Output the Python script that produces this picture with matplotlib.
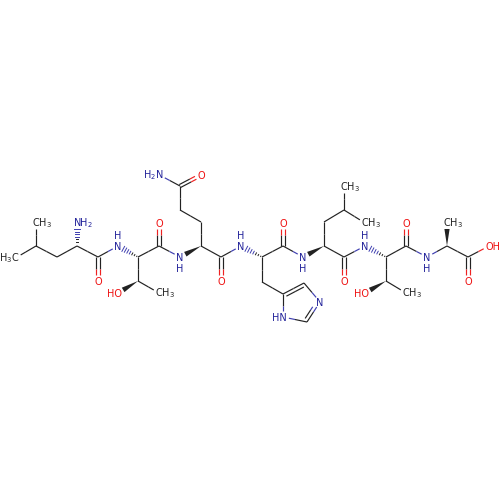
import numpy as np
import matplotlib.pyplot as plt
from matplotlib.patches import Polygon

atom_ids = ['c1', 'c2', 'c3', 'c4', 'c5', 'n1', 'c6', 'o1', 'n2', 'c7', 'c8', 'o2', 'c9', 'o3', 'c10',
            'n3', 'c11', 'c12', 'c13', 'c14', 'o4', 'n4', 'c15', 'o5', 'n5', 'c16', 'c17', 'o6', 'c18',
            'c19', 'c20', 'n6', 'c21', 'n7', 'n8', 'c22', 'c23', 'c24', 'c25', 'c26', 'c27', 'o7', 'n9',
            'c28', 'c29', 'o8', 'c30', 'o9', 'c31', 'n10', 'c32', 'c33', 'c34', 'o10', 'o11']
atom_x = [36, 36, 15.5, 57, 77, 77, 98, 98, 118, 138, 159, 159, 138, 118, 159,
          180, 201, 201, 180, 180, 201, 159.5, 221, 221, 241, 262, 283, 283, 262,
          283, 304, 320, 307, 283, 303, 324, 324, 344, 344, 365, 344, 344, 365,
          386, 406, 406, 386, 365, 406, 427, 447, 447, 468, 468, 489]
atom_y = [223, 246, 258, 257, 246, 223, 257, 281, 246, 257, 246, 223, 281, 293, 293,
          257, 246, 222, 210, 186, 175, 175, 257, 281, 246, 257, 246, 223, 282,
          294, 283, 302, 322, 317, 257, 246, 222, 210, 187, 223, 257, 281, 246,
          257, 246, 223, 281, 293, 293, 257, 246, 223, 257, 281, 246]

# label, anchor: l = first letter on the atom, r = last letter on the atom
labels = {
    'c1': ('CH$_3$', 'l'), 'c3': ('H$_3$C', 'r'), 'n1': ('NH$_2$', 'l'), 'o1': ('O', 'c'),
    'n2': ('N', 'c'), 'o2': ('O', 'c'), 'o3': ('HO', 'r'), 'c10': ('CH$_3$', 'l'),
    'n3': ('N', 'c'), 'o4': ('O', 'c'), 'n4': ('H$_2$N', 'r'), 'o5': ('O', 'c'),
    'n5': ('N', 'c'), 'o6': ('O', 'c'), 'n6': ('N', 'c'), 'n7': ('HN', 'r'),
    'n8': ('N', 'c'), 'c25': ('CH$_3$', 'l'), 'c26': ('CH$_3$', 'l'), 'o7': ('O', 'c'),
    'n9': ('N', 'c'), 'o8': ('O', 'c'), 'o9': ('HO', 'r'), 'c31': ('CH$_3$', 'l'),
    'n10': ('N', 'c'), 'c33': ('CH$_3$', 'l'), 'o10': ('O', 'c'), 'o11': ('OH', 'l'),
}
hydrogens_above = ['n2', 'n5', 'n9']
hydrogens_below = ['n3', 'n8', 'n10']

single_bonds = [('c1', 'c2'), ('c2', 'c3'), ('c2', 'c4'), ('c4', 'c5'), ('c5', 'c6'), ('c6', 'n2'),
                ('c7', 'c8'), ('c7', 'c9'), ('c9', 'c10'), ('c8', 'n3'), ('c11', 'c12'), ('c12', 'c13'),
                ('c13', 'c14'), ('c14', 'n4'), ('c11', 'c15'), ('c15', 'n5'), ('c16', 'c17'),
                ('c16', 'c18'), ('c18', 'c19'), ('c19', 'n7'), ('n7', 'c21'), ('c20', 'n6'),
                ('c17', 'n8'), ('c22', 'c23'), ('c23', 'c24'), ('c24', 'c25'), ('c24', 'c26'),
                ('c22', 'c27'), ('c27', 'n9'), ('c28', 'c29'), ('c28', 'c30'), ('c30', 'c31'),
                ('c29', 'n10'), ('n10', 'c32'), ('c32', 'c34'), ('c34', 'o11')]
double_bonds = [('c6', 'o1'), ('c8', 'o2'), ('c14', 'o4'), ('c15', 'o5'), ('c17', 'o6'),
                ('c27', 'o7'), ('c29', 'o8'), ('c34', 'o10')]
# second line goes to one side only, towards the ring centre
ring_double_bonds = [('c19', 'c20'), ('n6', 'c21')]
ring_centre = (299, 304)
wedge_bonds = [('c9', 'o3'), ('c11', 'n3'), ('c22', 'n8'), ('c30', 'o9'), ('c32', 'c33')]
hash_bonds = [('c5', 'n1'), ('c7', 'n2'), ('c16', 'n5'), ('c28', 'n9')]

dark = '#222222'
atom_colors = {'c': dark, 'n': '#3f3fb0', 'o': '#ee2222'}
label_colors = {'c': '#222222', 'n': '#22229a', 'o': '#ee1111'}

pos = {a: np.array([x, y], dtype=float) for a, x, y in zip(atom_ids, atom_x, atom_y)}


def trimmed(a, b):
    p, q = pos[a].copy(), pos[b].copy()
    unit = (q - p) / np.linalg.norm(q - p)
    if a in labels:
        p = p + unit * 6
    if b in labels:
        q = q - unit * 6
    return p, q


def half_coloured(ax, p, q, a, b, shift=(0, 0)):
    mid = (pos[a] + pos[b]) / 2 + np.array(shift)
    for start, end, atom in ((p, mid, a), (mid, q, b)):
        ax.plot([start[0], end[0]], [start[1], end[1]], color=atom_colors[atom[0]],
                lw=0.85, solid_capstyle='butt')


def draw_wedge(ax, a, b):
    p, q = trimmed(a, b)
    unit = (q - p) / np.linalg.norm(q - p)
    side = np.array([-unit[1], unit[0]]) * 2.6
    ax.add_patch(Polygon([p, q + side, q - side], closed=True, color=dark, lw=0))


def draw_hash(ax, a, b):
    p, q = trimmed(a, b)
    unit = (q - p) / np.linalg.norm(q - p)
    side = np.array([-unit[1], unit[0]])
    for f in np.linspace(0.08, 1, 7):
        c = p + (q - p) * f
        w = side * 2.8 * f
        color = atom_colors[a[0]] if f < 0.5 else atom_colors[b[0]]
        ax.plot([c[0] - w[0], c[0] + w[0]], [c[1] - w[1], c[1] + w[1]], color=color, lw=0.7)


def main():
    fig = plt.figure(figsize=(5, 5), dpi=100)
    ax = fig.add_axes([0, 0, 1, 1])
    ax.set_xlim(0, 500)
    ax.set_ylim(500, 0)
    ax.axis('off')

    for a, b in single_bonds:
        p, q = trimmed(a, b)
        half_coloured(ax, p, q, a, b)

    for a, b in double_bonds:
        p, q = trimmed(a, b)
        unit = (q - p) / np.linalg.norm(q - p)
        off = np.array([-unit[1], unit[0]]) * 1.6
        half_coloured(ax, p + off, q + off, a, b, off)
        half_coloured(ax, p - off, q - off, a, b, -off)

    for a, b in ring_double_bonds:
        p, q = trimmed(a, b)
        half_coloured(ax, p, q, a, b)
        unit = (q - p) / np.linalg.norm(q - p)
        inner = np.array([-unit[1], unit[0]])
        if np.dot(inner, np.array(ring_centre) - (p + q) / 2) < 0:
            inner = -inner
        inner = inner * 3.5
        half_coloured(ax, p + inner + unit * 2, q + inner - unit * 2, a, b, inner)

    for a, b in wedge_bonds:
        draw_wedge(ax, a, b)
    for a, b in hash_bonds:
        draw_hash(ax, a, b)

    font = dict(fontsize=7, family='DejaVu Sans', va='baseline')
    for atom, (text, anchor) in labels.items():
        x, y = pos[atom]
        y += 3.6
        color = label_colors[atom[0]]
        if anchor == 'l':
            ax.text(x - 3.6, y, text, ha='left', color=color, **font)
        elif anchor == 'r':
            ax.text(x + 3.6, y, text, ha='right', color=color, **font)
        else:
            ax.text(x, y, text, ha='center', color=color, **font)

    for atom in hydrogens_above:
        ax.text(pos[atom][0], pos[atom][1] - 7.4, 'H', ha='center', color=label_colors['n'], **font)
    for atom in hydrogens_below:
        ax.text(pos[atom][0], pos[atom][1] + 14.6, 'H', ha='center', color=label_colors['n'], **font)

    fig.savefig('out.png', dpi=100)


if __name__ == '__main__':
    main()
